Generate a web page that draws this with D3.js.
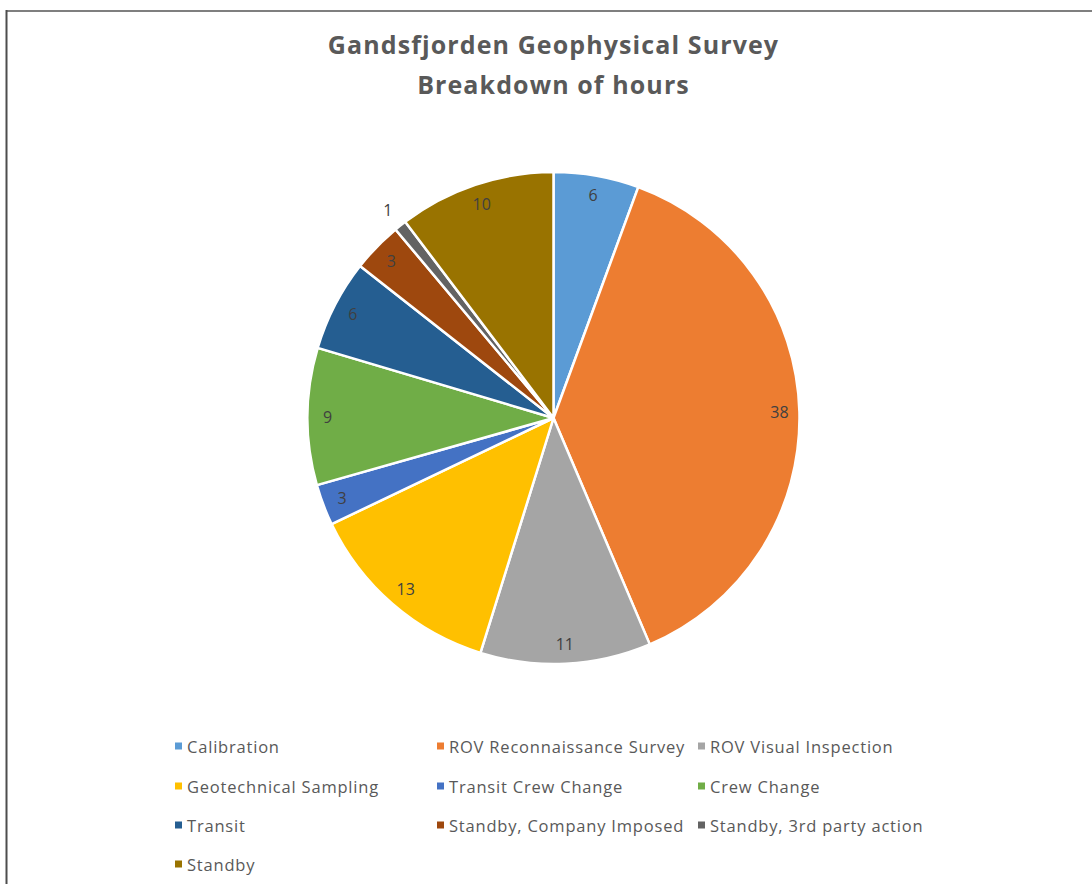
<!DOCTYPE html>
<html>
<head>
<meta charset="utf-8">
<script src="https://cdn.jsdelivr.net/npm/d3@7"></script>
<style>
  html, body { margin: 0; padding: 0; background: #ffffff; }
  svg { display: block; }
</style>
</head>
<body>
<svg id="chart" width="1092" height="884"></svg>
<script>
// ---- Data ----
const categories = [
  "Calibration",
  "ROV Reconnaissance Survey",
  "ROV Visual Inspection",
  "Geotechnical Sampling",
  "Transit Crew Change",
  "Crew Change",
  "Transit",
  "Standby, Company Imposed",
  "Standby, 3rd party action",
  "Standby"
];
const values = [5.6, 38.0, 11.2, 13.1, 2.7, 9.0, 6.0, 3.3, 0.8, 10.3];
const colors = [
  "#5B9BD5", "#ED7D31", "#A5A5A5", "#FFC000", "#4472C4",
  "#70AD47", "#255E91", "#9E480E", "#636363", "#997300"
];
const titleLines = ["Gandsfjorden Geophysical Survey", "Breakdown of hours"];

// ---- Layout ----
const W = 1092, H = 884;
const cx = 553.5, cy = 418, R = 246;
const FONT = "'Open Sans', Lato, sans-serif";

const svg = d3.select("#chart");

// partial chart border (cropped frame)
svg.append("line").attr("x1", 6.5).attr("x2", W).attr("y1", 11).attr("y2", 11)
  .attr("stroke", "#7f7f7f").attr("stroke-width", 2);
svg.append("line").attr("x1", 6.5).attr("x2", 6.5).attr("y1", 10).attr("y2", H)
  .attr("stroke", "#4d4d4d").attr("stroke-width", 2);

// title
svg.append("g").selectAll("text").data(titleLines).join("text")
  .attr("x", cx)
  .attr("y", (d, i) => 54 + i * 40)
  .attr("text-anchor", "middle")
  .attr("font-family", FONT)
  .attr("font-weight", "bold")
  .attr("font-size", 25)
  .attr("letter-spacing", 1.1)
  .attr("fill", "#595959")
  .text(d => d);

const data = categories.map((c, i) => ({ name: c, value: values[i], color: colors[i] }));

const pie = d3.pie().value(d => d.value).sort(null);
const arcs = pie(data);
const arc = d3.arc().innerRadius(0).outerRadius(R);
const labelArc = d3.arc().innerRadius(226).outerRadius(226);
const outerLabelArc = d3.arc().innerRadius(266).outerRadius(266);

const g = svg.append("g").attr("transform", `translate(${cx},${cy})`);

g.selectAll("path").data(arcs).join("path")
  .attr("d", arc)
  .attr("fill", d => d.data.color)
  .attr("stroke", "#ffffff")
  .attr("stroke-width", 2.5)
  .attr("stroke-linejoin", "round");

const fmt = d3.format(".0f");
g.selectAll("text.lbl").data(arcs).join("text")
  .attr("class", "lbl")
  .attr("transform", d => {
    const small = (d.endAngle - d.startAngle) < 0.1;
    const p = (small ? outerLabelArc : labelArc).centroid(d);
    return `translate(${p[0]},${p[1]})`;
  })
  .attr("text-anchor", "middle")
  .attr("dominant-baseline", "central")
  .attr("font-family", FONT)
  .attr("font-size", 16)
  .attr("fill", "#404040")
  .text(d => fmt(d.data.value));

// legend
const colX = [175, 437, 698];
const rowY = [746, 786, 825, 864];
const leg = svg.append("g").selectAll("g").data(data).join("g")
  .attr("transform", (d, i) => `translate(${colX[i % 3]},${rowY[Math.floor(i / 3)]})`);
leg.append("rect")
  .attr("x", 0).attr("y", -3.5).attr("width", 7).attr("height", 7)
  .attr("fill", d => d.color);
leg.append("text")
  .attr("x", 12).attr("y", 0)
  .attr("dominant-baseline", "central")
  .attr("font-family", FONT)
  .attr("font-size", 16.5)
  .attr("letter-spacing", 0.8)
  .attr("fill", "#595959")
  .text(d => d.name);
</script>
</body>
</html>
